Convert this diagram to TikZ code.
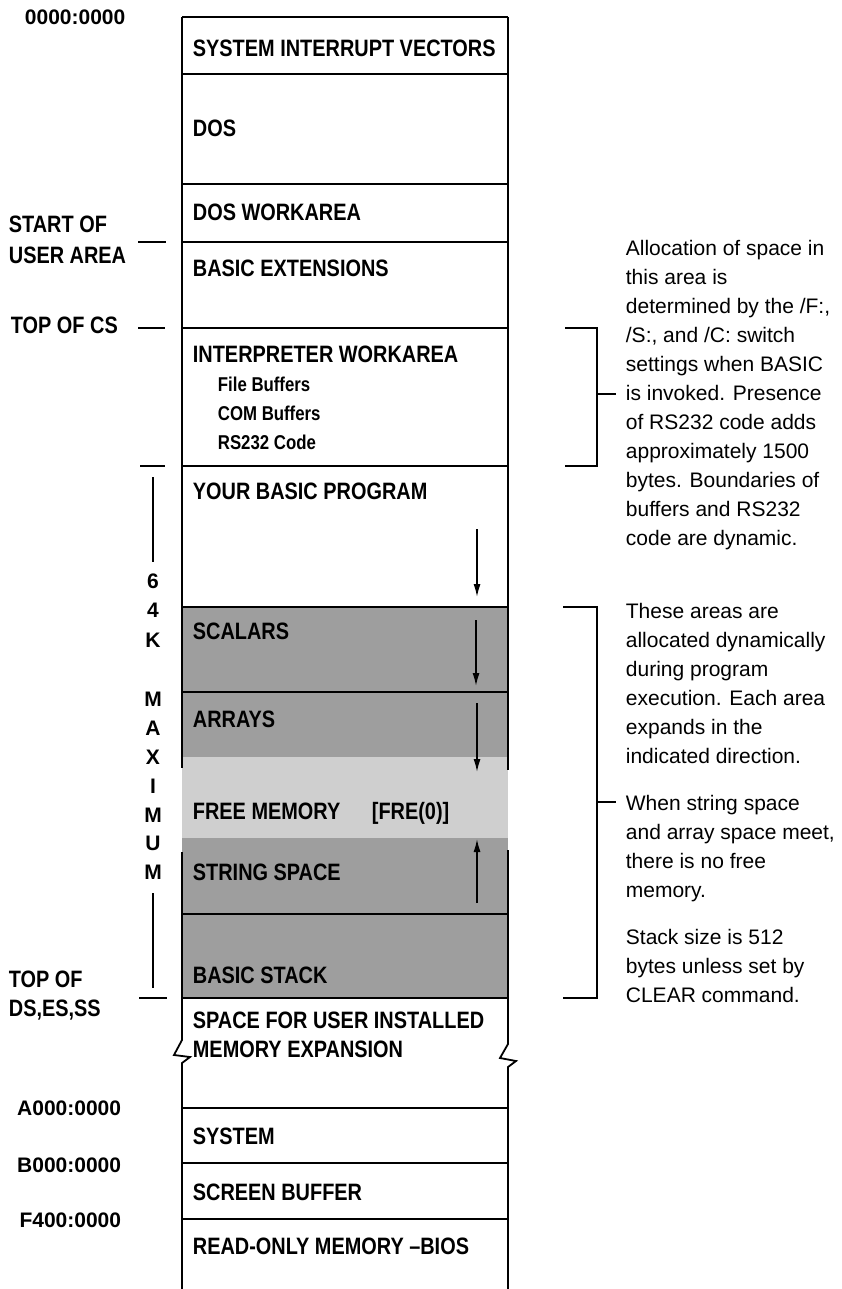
\documentclass[tikz,border=0pt]{standalone}
\usepackage{fontspec}
\setmainfont{Liberation Sans}
\newfontfamily\boxfont{Liberation Sans}[FakeStretch=0.84]
\usetikzlibrary{arrows.meta}
\definecolor{darkg}{HTML}{9E9E9E}
\definecolor{lightg}{HTML}{CFCFCF}
\begin{document}
\begin{tikzpicture}[x=1pt,y=-1pt,
  line width=1.8pt,
  lbl/.style={font=\boxfont\bfseries\fontsize{23.7}{26}\selectfont, inner sep=0pt, anchor=base west},
  sublbl/.style={font=\boxfont\bfseries\fontsize{20}{24}\selectfont, inner sep=0pt, anchor=base west},
  addr/.style={font=\bfseries\fontsize{21}{24}\selectfont, inner sep=0pt},
  note/.style={font=\fontsize{21}{29}\selectfont, inner sep=0pt, anchor=base west},
  arr/.style={line width=1.5pt, -{Latex[length=13pt,width=7pt]}},
  brk/.style={line width=1.8pt}]
\useasboundingbox (0,0) rectangle (841,1289);

% shaded regions
\fill[darkg] (182,607) rectangle (508,757);
\fill[lightg] (182,757) rectangle (508,838);
\fill[darkg] (182,838) rectangle (508,998);

% box outline
\draw (182,17) -- (508,17);
\draw (182,17) -- (182,768);
\draw (508,17) -- (508,770);
\draw (182,852) -- (182,1040) -- (174,1055) -- (190,1057) -- (182,1063) -- (182,1289);
\draw (508,850) -- (508,1044) -- (500,1058) -- (516,1061) -- (508,1067) -- (508,1289);
\foreach \yy in {74,184,242,328,466,607,692,914,998,1108,1163,1219}
  \draw (182,\yy) -- (508,\yy);

% box labels
\node[lbl] (siv) at (192,57) {SYSTEM INTERRUPT VECTORS};
\node[lbl] (dos) at (192,137) {DOS};
\node[lbl] (dosw) at (192,221) {DOS WORKAREA};
\node[lbl] (bext) at (192,276) {BASIC EXTENSIONS};
\node[lbl] (interp) at (192,362) {INTERPRETER WORKAREA};
\node[sublbl] (fileb) at (217,391) {File Buffers};
\node[sublbl] (comb) at (217,420) {COM Buffers};
\node[sublbl] (rscode) at (217,449) {RS232 Code};
\node[lbl] (prog) at (192,499) {YOUR BASIC PROGRAM};
\node[lbl] (scal) at (192,639) {SCALARS};
\node[lbl] (arrs) at (192,727) {ARRAYS};
\node[lbl] (free) at (192,819) {FREE MEMORY};
\node[lbl] (fre0) at (371,819) {[FRE(0)]};
\node[lbl] (strs) at (192,880) {STRING SPACE};
\node[lbl] (stack) at (192,983) {BASIC STACK};
\node[lbl] (exp1) at (192,1028) {SPACE FOR USER INSTALLED};
\node[lbl] (exp2) at (192,1057) {MEMORY EXPANSION};
\node[lbl] (sys) at (192,1144) {SYSTEM};
\node[lbl] (scr) at (192,1200) {SCREEN BUFFER};
\node[lbl] (rom) at (192,1254) {READ-ONLY MEMORY –BIOS};

% direction arrows
\coordinate (a1s) at (477,529); \coordinate (a1e) at (477,597);
\coordinate (a2s) at (476,620); \coordinate (a2e) at (476,686);
\coordinate (a3s) at (477,703); \coordinate (a3e) at (477,772);
\coordinate (a4s) at (477,903); \coordinate (a4e) at (477,839);
\draw[arr] (a1s) -- (a1e);
\draw[arr] (a2s) -- (a2e);
\draw[arr] (a3s) -- (a3e);
\draw[arr] (a4s) -- (a4e);

% left labels
\node[addr, anchor=base west] (a0) at (24,25) {0000:0000};
\node[lbl] (start1) at (8,233) {START OF};
\node[lbl] (start2) at (8,263) {USER AREA};
\node[lbl] (topcs) at (10,333) {TOP OF CS};
\node[lbl] (topds1) at (8,987) {TOP OF};
\node[lbl] (topds2) at (8,1016) {DS,ES,SS};
\node[addr, anchor=base east] (aA) at (122,1115) {A000:0000};
\node[addr, anchor=base east] (aB) at (122,1172) {B000:0000};
\node[addr, anchor=base east] (aF) at (122,1227) {F400:0000};

\draw (138,242) -- (166,242);
\draw (138,328) -- (165,328);
\draw (140,466) -- (165,466);
\draw (153,477) -- (153,562);
\draw (153,893) -- (153,988);
\draw (139,998) -- (167,998);
\foreach \ch/\yy [count=\i] in {6/588,4/617,K/647,M/706,A/735,X/764,I/793,M/822,U/850,M/879}
  \node[addr, anchor=base] (k\i) at (153,\yy) {\ch};

% brackets
\draw[brk] (565,328) -- (597,328) -- (597,466) -- (565,466);
\draw[brk] (597,394) -- (616,394);
\draw[brk] (563,607) -- (597,607) -- (597,998) -- (563,998);
\draw[brk] (597,802) -- (616,802);

% notes
\foreach \t [count=\i] in {Allocation of space in, this area is, {determined by the /F:,}, {/S:, and /C: switch}, settings when BASIC, is invoked. Presence, of RS232 code adds, approximately 1500, bytes. Boundaries of, buffers and RS232, code are dynamic.}
  \node[note] (na\i) at (625,{255+29*(\i-1)}) {\t};
\foreach \t [count=\i] in {These areas are, allocated dynamically, during program, execution. Each area, expands in the, indicated direction.}
  \node[note] (nb\i) at (625,{618+29*(\i-1)}) {\t};
\foreach \t [count=\i] in {When string space, {and array space meet,}, there is no free, memory.}
  \node[note] (nc\i) at (625,{810+29*(\i-1)}) {\t};
\foreach \t [count=\i] in {Stack size is 512, bytes unless set by, CLEAR command.}
  \node[note] (nd\i) at (625,{944+29*(\i-1)}) {\t};
\end{tikzpicture}
\end{document}
